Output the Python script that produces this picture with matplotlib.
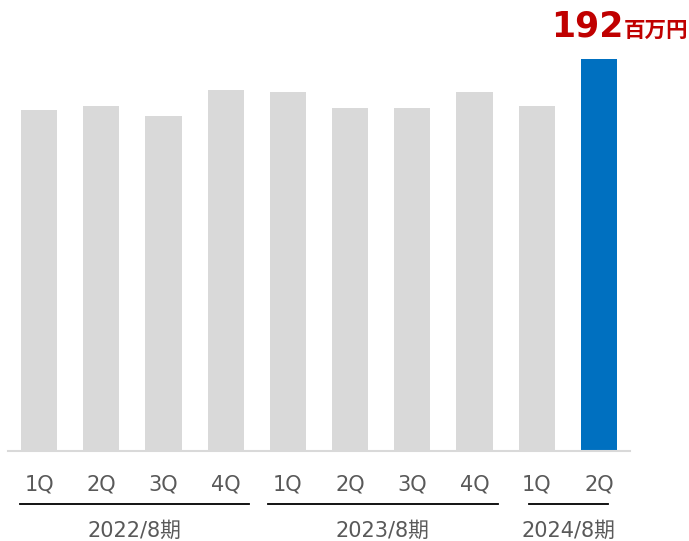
import matplotlib
matplotlib.use("Agg")
from matplotlib import pyplot as plt

# quarterly values (百万円)
quarters = ["1Q", "2Q", "3Q", "4Q", "1Q", "2Q", "3Q", "4Q", "1Q", "2Q"]
values = [167, 169, 164, 177, 176, 168, 168, 176, 169, 192]
groups = ["2022/8期", "2023/8期", "2024/8期"]
group_spans = [(-0.31, 3.37), (3.68, 7.37), (7.87, 9.15)]

GRAY = "#D9D9D9"
BLUE = "#0070C0"
RED = "#C00000"
TEXT = "#595959"
JP = ["DejaVu Sans", "Noto Sans CJK JP"]

fig = plt.figure(figsize=(6.89, 5.41), dpi=100)
ax = fig.add_axes([8 / 689, 90 / 541, 622 / 689, 408.3 / 541])

x = list(range(len(values)))
colors = [GRAY] * (len(values) - 1) + [BLUE]
ax.bar(x, values, width=0.58, color=colors)

ax.set_xlim(-0.5, 9.5)
ax.set_ylim(0, 200)
ax.set_yticks([])
for s in ["top", "right", "left"]:
    ax.spines[s].set_visible(False)
ax.spines["bottom"].set_color(GRAY)
ax.spines["bottom"].set_linewidth(1.5)

ax.set_xticks(x)
ax.set_xticklabels(quarters, fontsize=15, color=TEXT)
ax.tick_params(axis="x", length=0, pad=17)

# year groups: line + label under the quarter labels
trans = ax.get_xaxis_transform()
for name, (a, b) in zip(groups, group_spans):
    ax.plot([a, b], [-53 / 408.3, -53 / 408.3], color="black", lw=1.3,
            transform=trans, clip_on=False)
    ax.text((a + b) / 2, -80 / 408.3, name, ha="center", va="center",
            fontsize=15, color=TEXT, family=JP, transform=trans)

# highlight label for the latest quarter
last = len(values) - 1
ax.annotate("192", xy=(last, values[last]), xytext=(18, 16), textcoords="offset points",
            ha="right", va="baseline", fontsize=25, fontweight="bold", color=RED,
            annotation_clip=False)
ax.annotate("百万円", xy=(last, values[last]), xytext=(18, 16), textcoords="offset points",
            ha="left", va="baseline", fontsize=15.5, fontweight="bold", color=RED,
            family=["Noto Sans CJK JP"], annotation_clip=False)

fig.savefig("out.png", dpi=100)
